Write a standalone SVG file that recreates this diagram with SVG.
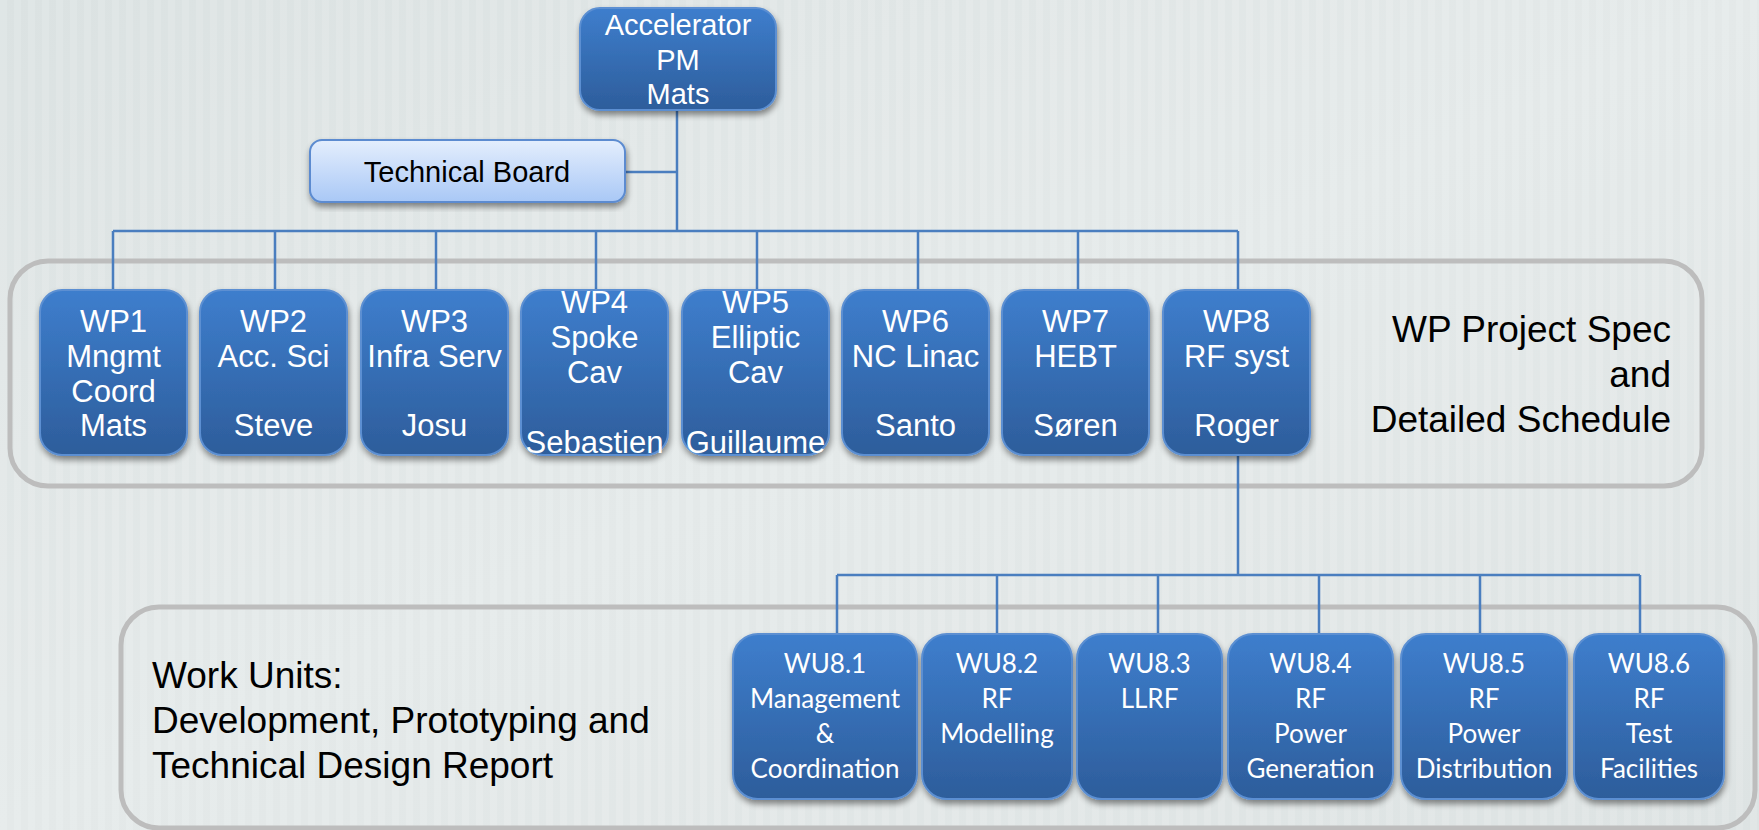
<svg xmlns="http://www.w3.org/2000/svg" width="1759" height="830" viewBox="0 0 1759 830">
<defs>
<linearGradient id="bg" x1="0" y1="0" x2="1" y2="1">
<stop offset="0" stop-color="#dbe2e2"/>
<stop offset="0.5" stop-color="#e4e9e9"/>
<stop offset="1" stop-color="#dde3e3"/>
</linearGradient>
<pattern id="stripes" width="14" height="10" patternUnits="userSpaceOnUse">
<rect x="0" y="0" width="7" height="10" fill="#ffffff" opacity="0.12"/>
</pattern>
<linearGradient id="blue" x1="0" y1="0" x2="0" y2="1">
<stop offset="0" stop-color="#3e7ecd"/>
<stop offset="1" stop-color="#2d5d9b"/>
</linearGradient>
<linearGradient id="light" x1="0" y1="0" x2="0" y2="1">
<stop offset="0" stop-color="#e4eefd"/>
<stop offset="1" stop-color="#a9c8f6"/>
</linearGradient>
<filter id="sh" x="-10%" y="-10%" width="120%" height="125%">
<feGaussianBlur in="SourceAlpha" stdDeviation="3"/>
<feOffset dx="1" dy="4" result="b"/>
<feComponentTransfer><feFuncA type="linear" slope="0.45"/></feComponentTransfer>
<feMerge><feMergeNode/><feMergeNode in="SourceGraphic"/></feMerge>
</filter>
</defs>
<style>
.box{fill:url(#blue);stroke:#5b8fd2;stroke-width:2;filter:url(#sh)}
.lbox{fill:url(#light);stroke:#5b8bd0;stroke-width:2;filter:url(#sh)}
.frame{fill:none;stroke:#bdbdbd;stroke-width:5}
.wt{font-family:"Liberation Sans",Arial,sans-serif;font-size:29px;fill:#ffffff;text-anchor:middle}
.wp{font-size:31px}
.ut{font-family:Lato,"Open Sans",sans-serif;font-size:26px;fill:#ffffff;text-anchor:middle}
.bt{font-family:"Liberation Sans",Arial,sans-serif;font-size:37px;fill:#000000}
.con{fill:none;stroke:#4a7ebf;stroke-width:2.5}
</style>
<rect width="1759" height="830" fill="url(#bg)"/>
<rect width="1759" height="830" fill="url(#stripes)"/>

<g id="frames">
<rect class="frame" x="10" y="261" width="1692" height="225" rx="38"/>
<rect class="frame" x="121" y="607" width="1634" height="221" rx="38"/>
</g>

<g id="connectors">
<path class="con" d="M677 110 V231 M625 172 H677 M113 231 H1238 M113 231 V290 M275 231 V290 M436 231 V290 M596 231 V290 M757 231 V290 M918 231 V290 M1078 231 V290 M1238 231 V290"/>
<path class="con" d="M1238 455 V575 M837 575 H1640 M837 575 V634 M997 575 V634 M1158 575 V634 M1319 575 V634 M1480 575 V634 M1640 575 V634"/>
</g>

<g id="accelerator">
<rect class="box" x="580" y="8" width="196" height="102" rx="20"/>
<text class="wt" x="678" y="35">Accelerator</text>
<text class="wt" x="678" y="70">PM</text>
<text class="wt" x="678" y="104">Mats</text>
</g>

<g id="technical-board">
<rect class="lbox" x="310" y="140" width="315" height="62" rx="12"/>
<text class="wt" x="467" y="182" style="fill:#000">Technical Board</text>
</g>

<g id="wp1">
<rect class="box" x="40" y="290" width="147" height="165" rx="22"/>
<text class="wt wp" x="113.5" y="332">WP1</text>
<text class="wt wp" x="113.5" y="367">Mngmt</text>
<text class="wt wp" x="113.5" y="402">Coord</text>
<text class="wt wp" x="113.5" y="436">Mats</text>
</g>
<g id="wp2">
<rect class="box" x="200" y="290" width="147" height="165" rx="22"/>
<text class="wt wp" x="273.5" y="332">WP2</text>
<text class="wt wp" x="273.5" y="367">Acc. Sci</text>
<text class="wt wp" x="273.5" y="436">Steve</text>
</g>
<g id="wp3">
<rect class="box" x="361" y="290" width="147" height="165" rx="22"/>
<text class="wt wp" x="434.5" y="332">WP3</text>
<text class="wt wp" x="434.5" y="367">Infra Serv</text>
<text class="wt wp" x="434.5" y="436">Josu</text>
</g>
<g id="wp4">
<rect class="box" x="521" y="290" width="147" height="165" rx="22"/>
<text class="wt wp" x="594.5" y="313">WP4</text>
<text class="wt wp" x="594.5" y="348">Spoke</text>
<text class="wt wp" x="594.5" y="383">Cav</text>
<text class="wt wp" x="594.5" y="453">Sebastien</text>
</g>
<g id="wp5">
<rect class="box" x="682" y="290" width="147" height="165" rx="22"/>
<text class="wt wp" x="755.5" y="313">WP5</text>
<text class="wt wp" x="755.5" y="348">Elliptic</text>
<text class="wt wp" x="755.5" y="383">Cav</text>
<text class="wt wp" x="755.5" y="453">Guillaume</text>
</g>
<g id="wp6">
<rect class="box" x="842" y="290" width="147" height="165" rx="22"/>
<text class="wt wp" x="915.5" y="332">WP6</text>
<text class="wt wp" x="915.5" y="367">NC Linac</text>
<text class="wt wp" x="915.5" y="436">Santo</text>
</g>
<g id="wp7">
<rect class="box" x="1002" y="290" width="147" height="165" rx="22"/>
<text class="wt wp" x="1075.5" y="332">WP7</text>
<text class="wt wp" x="1075.5" y="367">HEBT</text>
<text class="wt wp" x="1075.5" y="436">Søren</text>
</g>
<g id="wp8">
<rect class="box" x="1163" y="290" width="147" height="165" rx="22"/>
<text class="wt wp" x="1236.5" y="332">WP8</text>
<text class="wt wp" x="1236.5" y="367">RF syst</text>
<text class="wt wp" x="1236.5" y="436">Roger</text>
</g>

<g id="wp-label">
<text class="bt" x="1671" y="342" text-anchor="end">WP Project Spec</text>
<text class="bt" x="1671" y="387" text-anchor="end">and</text>
<text class="bt" x="1671" y="432" text-anchor="end">Detailed Schedule</text>
</g>

<g id="wu-label">
<text class="bt" x="152" y="688">Work Units:</text>
<text class="bt" x="152" y="733">Development, Prototyping and</text>
<text class="bt" x="152" y="778">Technical Design Report</text>
</g>

<g id="wu81">
<rect class="box" x="733" y="634" width="184" height="165" rx="25"/>
<text class="ut" x="825" y="673">WU8.1</text>
<text class="ut" x="825" y="708">Management</text>
<text class="ut" x="825" y="743">&amp;</text>
<text class="ut" x="825" y="778">Coordination</text>
</g>
<g id="wu82">
<rect class="box" x="922" y="634" width="150" height="165" rx="25"/>
<text class="ut" x="997" y="673">WU8.2</text>
<text class="ut" x="997" y="708">RF</text>
<text class="ut" x="997" y="743">Modelling</text>
</g>
<g id="wu83">
<rect class="box" x="1077" y="634" width="145" height="165" rx="25"/>
<text class="ut" x="1149.5" y="673">WU8.3</text>
<text class="ut" x="1149.5" y="708">LLRF</text>
</g>
<g id="wu84">
<rect class="box" x="1228" y="634" width="165" height="165" rx="25"/>
<text class="ut" x="1310.5" y="673">WU8.4</text>
<text class="ut" x="1310.5" y="708">RF</text>
<text class="ut" x="1310.5" y="743">Power</text>
<text class="ut" x="1310.5" y="778">Generation</text>
</g>
<g id="wu85">
<rect class="box" x="1401" y="634" width="166" height="165" rx="25"/>
<text class="ut" x="1484" y="673">WU8.5</text>
<text class="ut" x="1484" y="708">RF</text>
<text class="ut" x="1484" y="743">Power</text>
<text class="ut" x="1484" y="778">Distribution</text>
</g>
<g id="wu86">
<rect class="box" x="1574" y="634" width="150" height="165" rx="25"/>
<text class="ut" x="1649" y="673">WU8.6</text>
<text class="ut" x="1649" y="708">RF</text>
<text class="ut" x="1649" y="743">Test</text>
<text class="ut" x="1649" y="778">Facilities</text>
</g>
</svg>
